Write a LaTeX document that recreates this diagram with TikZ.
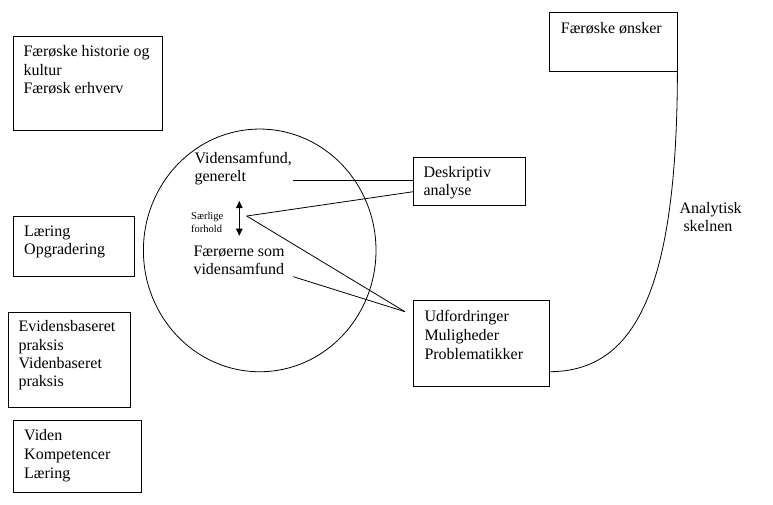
\documentclass[tikz,border=0pt]{standalone}
\usepackage{fontspec}
\setmainfont{Liberation Serif}
\usetikzlibrary{arrows.meta,fit,shapes.geometric}
\begin{document}
\begin{tikzpicture}[x=1pt,y=-1pt,
  box/.style={draw, line width=0.8pt, inner sep=0pt},
  txt/.style={anchor=base west, inner sep=0pt, align=left, font=\fontsize{16}{18.4}\selectfont},
  txtw/.style={anchor=base west, inner sep=0pt, align=left, font=\fontsize{16}{19}\selectfont},
  small/.style={anchor=base west, inner sep=0pt, align=left, font=\fontsize{10.5}{13.3}\selectfont},
  con/.style={line width=0.8pt},
  dblarrow/.style={{Triangle[width=6.5pt,length=7pt]}-{Triangle[width=6.5pt,length=7pt]}}]
\useasboundingbox (0,0) rectangle (773,505);
% left boxes (text nodes anchored at the baseline of their last line)
\node[box, fit={(13.3,36.3) (162.3,130.7)}] (b1) {};
\node[txt] (t1) at (23.3,93.5) {Færøske historie og\\kultur\\Færøsk erhverv};
\node[box, fit={(13.3,216.7) (134,276)}] (b2) {};
\node[txt] (t2) at (24,254.4) {Læring\\Opgradering};
\node[box, fit={(8.3,312.7) (130,407.7)}] (b3) {};
\node[txt] (t3) at (18.3,386.9) {Evidensbaseret\\praksis\\Videnbaseret\\praksis};
\node[box, fit={(13.3,420.7) (141.7,492.3)}] (b4) {};
\node[txtw] (t4) at (24,478) {Viden\\Kompetencer\\Læring};
% right boxes
\node[box, fit={(549.3,12) (677,71)}] (ons) {};
\node[txt] (tons) at (560.7,33.3) {Færøske ønsker};
\node[box, fit={(413.3,157.3) (525,205)}] (desk) {};
\node[txt] (tdesk) at (423.3,195.7) {Deskriptiv\\analyse};
\node[box, fit={(413.3,300.7) (549.3,386.7)}] (udf) {};
\node[txtw] (tudf) at (424.3,359.7) {Udfordringer\\Muligheder\\Problematikker};
% circle
\node[draw, ellipse, line width=0.8pt, inner sep=0pt, minimum width=232.6pt, minimum height=242.7pt] (circ) at (259.7,250.4) {};
\node[txt] (tgen) at (194.3,181.9) {Vidensamfund,\\generelt};
\node[txt] (tfar) at (193.3,274.6) {Færøerne som\\vidensamfund};
\node[small] (tsaer) at (191,232.3) {Særlige\\forhold};
\node[txt] (tana) at (679.3,231.7) {Analytisk\\\hspace*{4pt}skelnen};
% arrow
\coordinate (atop) at (239.3,201);
\coordinate (abot) at (239.3,235.7);
\draw[con, dblarrow] (atop) -- (abot);
% connectors
\coordinate (gEnd) at (293.3,180.7);
\coordinate (sp) at (246.7,216);
\coordinate (dIn) at (413.3,191.7);
\coordinate (fEnd) at (293.3,276.7);
\coordinate (conv) at (405,311.7);
\coordinate (cS) at (549.3,371.7);
\draw[con] (gEnd) -- (gEnd -| desk.west);
\draw[con] (sp) -- (dIn);
\draw[con] (sp) -- (conv);
\draw[con] (fEnd) -- (conv);
\draw[con] (cS) .. controls (635,371.7) and (677,290) .. (ons.south east);
\end{tikzpicture}
\end{document}
